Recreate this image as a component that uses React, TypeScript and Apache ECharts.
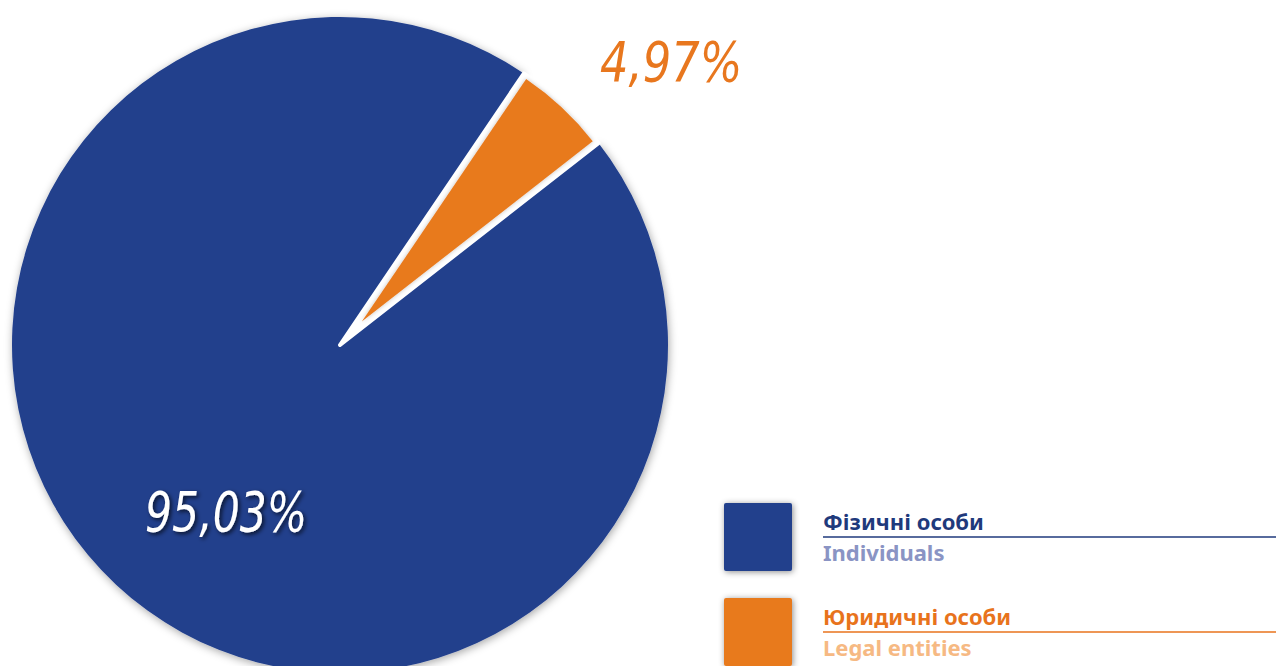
import React, { useEffect, useRef } from "react";
import * as echarts from "echarts";

const categoriesUk = ["Фізичні особи", "Юридичні особи"];
const categoriesEn = ["Individuals", "Legal entities"];
const shares = [95.03, 4.97];

const fmt = (v: number) => v.toFixed(2).replace(".", ",") + "%";

export default function App() {
  const ref = useRef<HTMLDivElement>(null);
  useEffect(() => {
    document.body.style.margin = "0";
    const chart = echarts.init(ref.current!, null, { renderer: "svg" });
    const cx = 340, cy = 345, R = 328;
    const startAngle = 38;
    const orangeMidDeg = startAngle - (shares[0] + shares[1] / 2) / 100 * 360;
    const rad = (orangeMidDeg * Math.PI) / 180;
    const shift = 32;
    const ocx = cx + shift * Math.cos(rad);
    const ocy = cy - shift * Math.sin(rad);

    const mainColors = ["#213f8c", "#e87a1e"];
    const legendTop = ["#1f3a7c", "#e8731c"];
    const legendSub = ["#8a94c4", "#f6b983"];

    const graphic: any[] = [];
    categoriesUk.forEach((name, i) => {
      const y0 = 503 + i * 95;
      graphic.push({
        type: "rect",
        z: 100,
        shape: { x: 724, y: y0, width: 68, height: 68, r: 2 },
        style: {
          fill: mainColors[i],
          shadowBlur: 6,
          shadowColor: "rgba(0,0,0,0.45)",
          shadowOffsetX: 1,
          shadowOffsetY: 1,
        },
      });
      graphic.push({
        type: "text",
        z: 100,
        x: 823,
        y: y0 + 18,
        style: {
          text: name,
          fill: legendTop[i],
          font: "bold 22px 'Noto Sans', sans-serif",
          verticalAlign: "middle",
        },
      });
      graphic.push({
        type: "line",
        z: 100,
        shape: { x1: 823, y1: y0 + 34, x2: 1276, y2: y0 + 34 },
        style: { stroke: legendTop[i], lineWidth: 1.5 },
      });
      graphic.push({
        type: "text",
        z: 100,
        x: 823,
        y: y0 + 49,
        style: {
          text: categoriesEn[i],
          fill: legendSub[i],
          font: "bold 22px 'Noto Sans', sans-serif",
          verticalAlign: "middle",
        },
      });
    });

    graphic.push({
      type: "text",
      z: 100,
      x: 145,
      y: 512,
      scaleX: 0.76,
      style: {
        text: fmt(shares[0]),
        fill: "#ffffff",
        font: "italic 56px 'DejaVu Sans', sans-serif",
        verticalAlign: "middle",
        textShadowBlur: 4,
        textShadowColor: "rgba(0,0,0,0.7)",
        textShadowOffsetX: 2,
        textShadowOffsetY: 2,
      },
    });
    graphic.push({
      type: "text",
      z: 100,
      x: 600,
      y: 62,
      scaleX: 0.8,
      style: {
        text: fmt(shares[1]),
        fill: "#e8771e",
        font: "italic 56px 'DejaVu Sans', sans-serif",
        verticalAlign: "middle",
      },
    });

    chart.setOption({
      animation: false,
      backgroundColor: "#ffffff",
      series: [
        {
          type: "pie",
          center: [cx, cy],
          radius: R,
          startAngle,
          clockwise: true,
          silent: true,
          z: 1,
          label: { show: false },
          labelLine: { show: false },
          data: [
            {
              name: categoriesUk[0],
              value: shares[0],
              itemStyle: {
                color: "#213f8c",
                shadowBlur: 8,
                shadowColor: "rgba(0,0,0,0.35)",
                shadowOffsetX: 1,
                shadowOffsetY: 2,
              },
            },
            {
              name: categoriesUk[1],
              value: shares[1],
              itemStyle: { color: "#ffffff", borderColor: "#ffffff", borderWidth: 4 },
            },
          ],
        },
        {
          type: "pie",
          center: [ocx, ocy],
          radius: R - shift - 3,
          startAngle,
          clockwise: true,
          silent: true,
          z: 2,
          label: { show: false },
          labelLine: { show: false },
          data: [
            { name: categoriesUk[0], value: shares[0], itemStyle: { color: "transparent" } },
            {
              name: categoriesUk[1],
              value: shares[1],
              itemStyle: {
                color: "#e87a1e",
                shadowBlur: 4,
                shadowColor: "rgba(0,0,0,0.25)",
              },
            },
          ],
        },
      ],
      graphic,
    });
    return () => chart.dispose();
  }, []);
  return <div ref={ref} style={{ width: 1283, height: 666 }} />;
}
